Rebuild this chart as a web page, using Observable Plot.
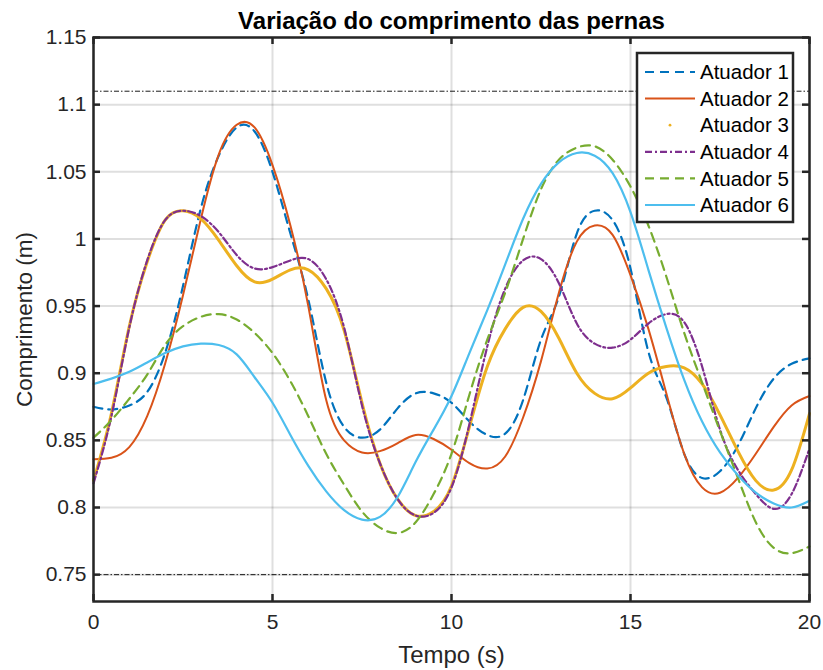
<!DOCTYPE html>
<html><head><meta charset="utf-8">
<script src="https://cdn.jsdelivr.net/npm/d3@7"></script>
<script src="https://cdn.jsdelivr.net/npm/@observablehq/plot@0.6"></script>
<style>body{margin:0;background:#fff}</style>
</head><body><div id="chart"></div>
<script>
const tempo = [0,0.5,1,1.5,2,2.5,3,3.5,4,4.5,5,5.5,6,6.5,7,7.5,8,8.5,9,9.5,10,10.5,11,11.5,12,12.5,13,13.5,14,14.5,15,15.5,16,16.5,17,17.5,18,18.5,19,19.5,20];
const atuador1 = [0.875,0.873,0.876,0.886,0.915,0.965,1.023,1.062,1.083,1.080,1.050,1.004,0.955,0.893,0.860,0.852,0.858,0.874,0.885,0.885,0.878,0.864,0.854,0.855,0.880,0.925,0.957,1.004,1.021,1.014,0.978,0.916,0.882,0.840,0.822,0.827,0.846,0.874,0.896,0.907,0.911];
const atuador2 = [0.836,0.837,0.845,0.868,0.907,0.958,1.015,1.063,1.085,1.083,1.055,1.010,0.950,0.880,0.850,0.841,0.842,0.848,0.854,0.851,0.843,0.833,0.829,0.838,0.867,0.909,0.960,0.998,1.010,1.003,0.973,0.933,0.885,0.840,0.815,0.811,0.822,0.840,0.860,0.876,0.883];
const atuador3 = [0.820,0.870,0.935,0.983,1.014,1.021,1.015,0.999,0.980,0.968,0.970,0.977,0.977,0.963,0.932,0.878,0.833,0.806,0.794,0.797,0.816,0.860,0.905,0.933,0.949,0.946,0.926,0.900,0.885,0.881,0.889,0.900,0.905,0.904,0.892,0.869,0.842,0.820,0.813,0.828,0.870];
const atuador4 = [0.818,0.868,0.934,0.984,1.014,1.021,1.017,1.005,0.988,0.978,0.979,0.984,0.985,0.970,0.934,0.876,0.833,0.806,0.794,0.796,0.815,0.862,0.920,0.963,0.984,0.985,0.967,0.937,0.922,0.919,0.925,0.937,0.944,0.938,0.905,0.858,0.828,0.810,0.799,0.810,0.844];
const atuador5 = [0.852,0.865,0.881,0.899,0.921,0.935,0.942,0.944,0.940,0.930,0.915,0.894,0.868,0.840,0.817,0.797,0.785,0.781,0.789,0.810,0.840,0.884,0.925,0.960,1.000,1.037,1.059,1.068,1.069,1.059,1.039,1.010,0.972,0.930,0.893,0.857,0.822,0.789,0.770,0.766,0.771];
const atuador6 = [0.892,0.896,0.901,0.908,0.915,0.920,0.922,0.921,0.914,0.897,0.878,0.854,0.831,0.812,0.798,0.791,0.793,0.808,0.834,0.858,0.883,0.915,0.947,0.981,1.015,1.041,1.057,1.064,1.062,1.049,1.020,0.977,0.934,0.895,0.864,0.841,0.824,0.811,0.803,0.800,0.805];

const nomes = ["Atuador 1","Atuador 2","Atuador 3","Atuador 4","Atuador 5","Atuador 6"];
const valores = [atuador1, atuador2, atuador3, atuador4, atuador5, atuador6];
const limites = [1.11, 0.75];
const xTicks = [0,5,10,15,20];
const yTicks = [0.75,0.8,0.85,0.9,0.95,1,1.05,1.1,1.15];
const titulo = "Variação do comprimento das pernas";
const rotuloX = "Tempo (s)";
const rotuloY = "Comprimento (m)";

const cores = ["#0072BD","#D95319","#EDB120","#7E2F8E","#77AC30","#4DBEEE"];
const tracos = ["9,6", null, null, "7,3,2,3", "9,6", null];
const larguras = [2.2, 2, 3, 2.2, 2.2, 2.2];

const W = 823, H = 670, mL = 93, mR = 14, mT = 37, mB = 69;
const fW = W - mL - mR, fH = H - mT - mB;
const axisColor = "#262626";
const font = "'Liberation Sans', Arial, Helvetica, sans-serif";

const lineMarks = valores.map((arr, k) => Plot.line(tempo.map((t, i) => ({t, v: arr[i]})), {
  x: "t", y: "v", stroke: cores[k], strokeWidth: larguras[k],
  strokeDasharray: tracos[k] ?? undefined, curve: "natural"
}));

const chart = Plot.plot({
  width: W, height: H,
  marginLeft: mL, marginRight: mR, marginTop: mT, marginBottom: mB,
  style: {fontFamily: font, fontSize: "21px", color: axisColor, background: "#fff"},
  x: {domain: [0, 20], ticks: xTicks, tickSize: 0, tickPadding: 13, label: null},
  y: {domain: [0.73, 1.15], ticks: yTicks, tickSize: 0, tickPadding: 7, label: null, tickFormat: d => String(d)},
  marks: [
    Plot.ruleX(xTicks, {stroke: axisColor, strokeOpacity: 0.15, strokeWidth: 2}),
    Plot.ruleY(yTicks, {stroke: axisColor, strokeOpacity: 0.15, strokeWidth: 2}),
    ...lineMarks,
    Plot.ruleY(limites, {stroke: "#000", strokeWidth: 0.9, strokeDasharray: "5,2,1.5,2"}),
    Plot.tickX(xTicks, {insetTop: fH - 7, stroke: axisColor, strokeWidth: 2.5}),
    Plot.tickX(xTicks, {insetBottom: fH - 7, stroke: axisColor, strokeWidth: 2.5}),
    Plot.tickY(yTicks, {insetRight: fW - 7, stroke: axisColor, strokeWidth: 2.5}),
    Plot.tickY(yTicks, {insetLeft: fW - 7, stroke: axisColor, strokeWidth: 2.5}),
    Plot.frame({stroke: axisColor, strokeWidth: 2.5}),
    Plot.text([titulo], {frameAnchor: "top", lineAnchor: "middle", textAnchor: "middle", dy: -16, fontWeight: "bold", fontSize: 24, fill: "#000"}),
    Plot.text([rotuloX], {frameAnchor: "bottom", lineAnchor: "middle", textAnchor: "middle", dy: 54, fontSize: 24, fill: axisColor}),
    Plot.text([rotuloY], {frameAnchor: "left", lineAnchor: "middle", textAnchor: "middle", dx: -69, rotate: -90, fontSize: 22.5, fill: axisColor})
  ]
});
document.getElementById("chart").appendChild(chart);

// legend
const svg = d3.select(chart.tagName === "svg" ? chart : chart.querySelector("svg"));
const lg = svg.append("g").attr("font-family", font).attr("font-size", 20.5).attr("text-anchor", "start");
const lx = 637, ly = 53, lw = 156, lh = 169, step = 26.6, y0 = 72;
lg.append("rect").attr("x", lx).attr("y", ly).attr("width", lw).attr("height", lh)
  .attr("fill", "#fff").attr("stroke", axisColor).attr("stroke-width", 2.5);
nomes.forEach((n, k) => {
  const y = y0 + k * step;
  if (k === 2) {
    lg.append("circle").attr("cx", 670).attr("cy", y).attr("r", 1.4).attr("fill", cores[k]);
  } else {
    lg.append("line").attr("x1", 645).attr("x2", 695).attr("y1", y).attr("y2", y)
      .attr("stroke", cores[k]).attr("stroke-width", larguras[k])
      .attr("stroke-dasharray", tracos[k] ?? null);
  }
  lg.append("text").attr("x", 700).attr("y", y).attr("dy", "0.35em").attr("fill", "#000").text(n);
});
</script>
</body></html>
